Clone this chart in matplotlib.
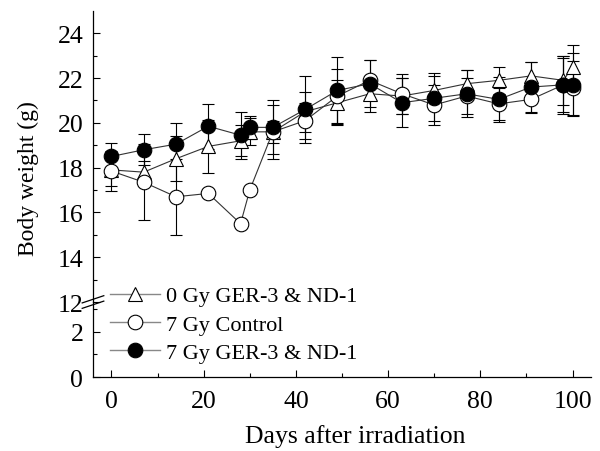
import numpy as np
import matplotlib
matplotlib.use("Agg")
import matplotlib.pyplot as plt

plt.rcParams['font.family'] = ['Liberation Serif', 'DejaVu Serif']

days = [0, 7, 14, 21, 28, 30, 35, 42, 49, 56, 63, 70, 77, 84, 91, 98, 100]

# 0 Gy GER-3 & ND-1
tri_mean = [17.9, 17.8, 18.4, 18.95, 19.2, 19.6, 19.6, 20.5, 20.9, 21.3, 21.2, 21.45, 21.75, 21.9, 22.1, 21.9, 22.5]
tri_err = [0.7, 0.5, 1.0, 1.2, 0.7, 0.6, 0.5, 0.9, 1.0, 0.8, 0.8, 0.8, 0.6, 0.6, 0.6, 1.1, 1.0]

# 7 Gy Control
circ_mean = [17.85, 17.35, 16.7, 16.85, 15.5, 17.0, 19.6, 20.1, 21.2, 21.9, 21.3, 20.8, 21.2, 20.85, 21.05, 21.7, 21.55]
circ_err = [0.9, 1.7, 1.7, 0.0, 0.0, 0.0, 1.2, 0.8, 1.2, 0.9, 0.9, 0.9, 0.8, 0.7, 0.6, 1.2, 1.2]

# 7 Gy GER-3 & ND-1
fill_mean = [18.5, 18.8, 19.05, 19.85, 19.45, 19.8, 19.8, 20.6, 21.45, 21.75, 20.9, 21.1, 21.3, 21.05, 21.6, 21.7, 21.7]
fill_err = [0.6, 0.7, 0.95, 1.0, 1.05, 0.5, 1.2, 1.5, 1.5, 1.05, 1.1, 1.0, 1.05, 1.0, 1.1, 1.3, 1.4]

labels = ['0 Gy GER-3 & ND-1', '7 Gy Control', '7 Gy GER-3 & ND-1']


def style_axis(ax):
    ax.tick_params(direction='in', which='both', labelsize=18.5, width=0.8)
    ax.tick_params(which='major', length=5)
    ax.tick_params(which='minor', length=3)
    ax.tick_params(axis='y', pad=7)
    ax.tick_params(axis='x', pad=9)
    for s in ['top', 'right']:
        ax.spines[s].set_visible(False)
    ax.spines['left'].set_linewidth(0.9)
    ax.spines['bottom'].set_linewidth(0.9)


def draw(ax):
    hs = []
    series = [(tri_mean, tri_err, '^', 'white'),
              (circ_mean, circ_err, 'o', 'white'),
              (fill_mean, fill_err, 'o', 'black')]
    for (m, e, mk, fc), lab in zip(series, labels):
        ax.errorbar(days, m, yerr=e, fmt='none', ecolor='black', elinewidth=0.8,
                    capsize=4, capthick=0.8, zorder=2)
        h, = ax.plot(days, m, marker=mk, markersize=10.5, markerfacecolor=fc,
                     markeredgecolor='black', markeredgewidth=0.8,
                     color='#333333', linewidth=0.8, zorder=3, label=lab)
        hs.append(h)
    return hs


fig = plt.figure(figsize=(6, 4.52), dpi=100)
ax_top = fig.add_axes([0.155, 0.3296, 0.83, 0.644])
ax_bot = fig.add_axes([0.155, 0.1637, 0.83, 0.1659])

handles = draw(ax_top)
draw(ax_bot)

for ax in (ax_top, ax_bot):
    ax.set_xlim(-4, 104)
    style_axis(ax)

ax_top.set_ylim(12, 25.0)
ax_top.set_yticks(np.arange(12, 25, 2))
ax_top.set_yticks(np.arange(13, 25, 2), minor=True)
ax_top.spines['bottom'].set_visible(False)
ax_top.tick_params(axis='x', which='both', bottom=False, labelbottom=False)
ax_top.patch.set_alpha(0)

ax_bot.set_ylim(0, 3.33)
ax_bot.set_yticks([0, 2])
ax_bot.set_yticks([1, 3], minor=True)
ax_bot.set_xticks(np.arange(0, 101, 20))
ax_bot.set_xticks(np.arange(10, 101, 20), minor=True)
ax_bot.patch.set_alpha(0)

# break marks
bx, by = 0.155, 0.3296
for dy in (-0.006, 0.006):
    fig.add_artist(plt.Line2D([bx - 0.018, bx + 0.018], [by + dy - 0.008, by + dy + 0.008],
                              color='black', linewidth=0.9, transform=fig.transFigure))

fig.text(0.592, 0.035, 'Days after irradiation', fontsize=18.5, ha='center', va='center')
fig.text(0.048, 0.606, 'Body weight (g)', rotation=90, fontsize=17, ha='center', va='center')

leg_handles = []
for h in handles:
    lh = plt.Line2D([], [], marker=h.get_marker(), markersize=10.5,
                    markerfacecolor=h.get_markerfacecolor(), markeredgecolor='black',
                    markeredgewidth=0.8, color='#888888', linewidth=1.0)
    leg_handles.append(lh)
fig.legend(leg_handles, labels, loc='upper left', bbox_to_anchor=(0.168, 0.385),
           frameon=False, fontsize=16, handlelength=2.25, handletextpad=0.3,
           labelspacing=0.35, borderaxespad=0)

fig.savefig('out.png', dpi=100)
